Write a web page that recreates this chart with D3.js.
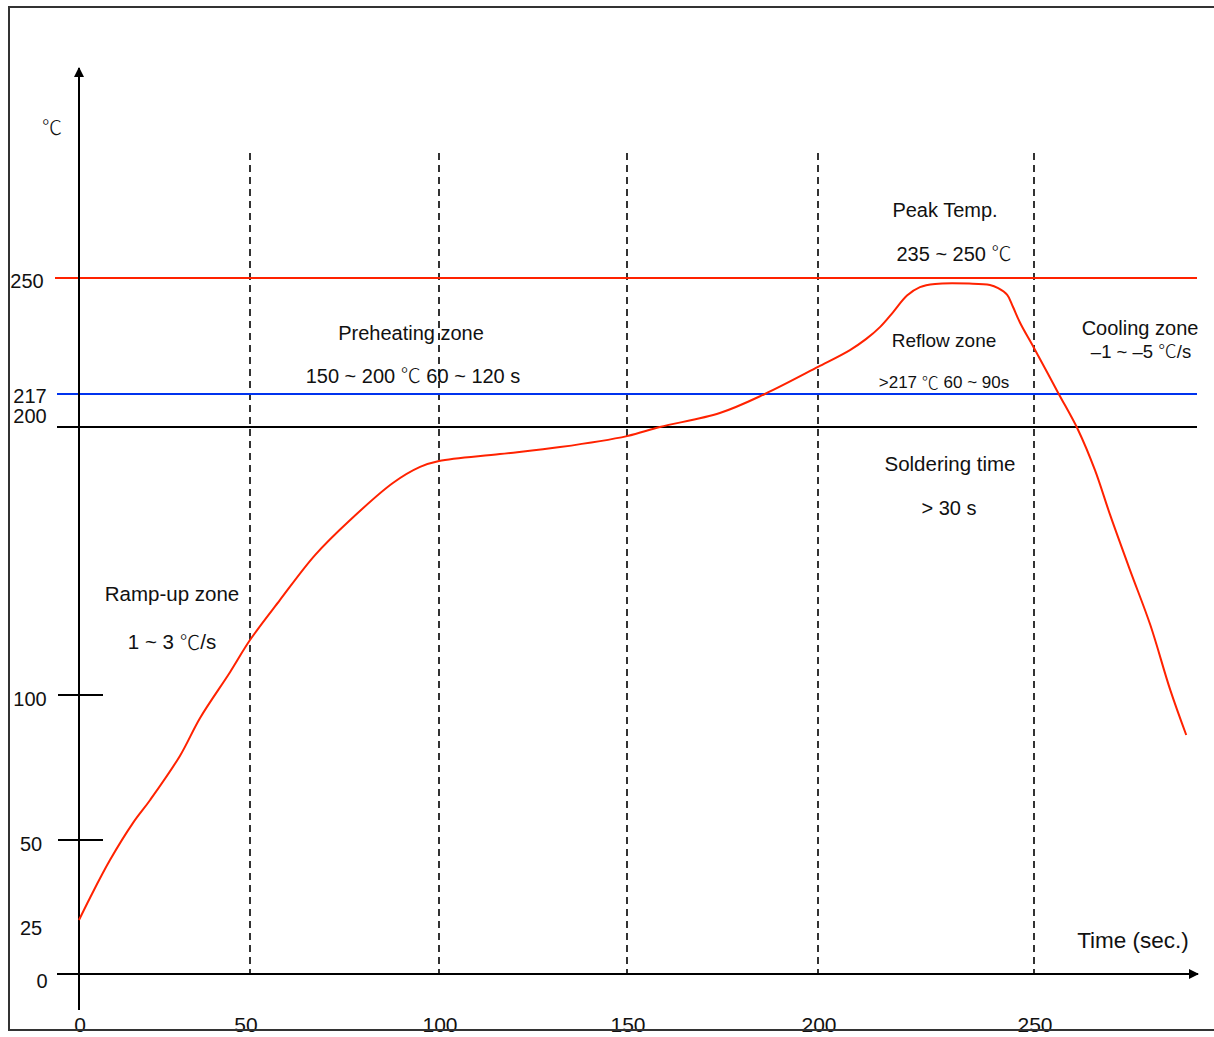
<!DOCTYPE html>
<html>
<head>
<meta charset="utf-8">
<script src="https://cdn.jsdelivr.net/npm/d3@7"></script>
<style>
  html, body { margin: 0; padding: 0; background: #fff; }
  text { font-family: "Liberation Sans", Arial, sans-serif; fill: #111; }
  .cjk { font-family: "Noto Sans CJK SC", sans-serif; font-weight: 300; }
</style>
</head>
<body>
<svg id="chart" width="1214" height="1037"></svg>
<script>
// ---- data ----
const timeTicks = [0, 50, 100, 150, 200, 250];
const zoneBoundaries = [50, 100, 150, 200, 250];
const tempTickLabels = [0, 25, 50, 100, 200, 217, 250];
const tempTickMarks = [50, 100];
const limitLines = [250, 217, 200];
const limitColors = ["#ff2200", "#0033ee", "#000000"];
const profileTime = [0, 3.2, 9.1, 15.8, 20.8, 29.5, 35.4, 44.2, 50, 57.9, 67.2, 76.5, 87.8, 95, 100,
  116.2, 132.2, 150, 158.6, 174.3, 186.1, 200, 207.4, 211.1, 214.4, 217.4, 220.6, 223.6, 227.1,
  235.0, 239.8, 241.7, 243.8, 245.1, 246.8, 250, 255.6, 260.2, 264.1, 267.6, 272.2, 276.9, 281.5, 285.2];
const profileTemp = [25, 31.9, 43.8, 55.9, 63.8, 79.0, 92.1, 108.6, 120.5, 135.4, 152.2, 165.3, 179.1, 185.1, 187.3,
  189.9, 192.5, 196.6, 200, 207.2, 217, 224.7, 229.5, 232.6, 236.1, 240.3, 245.0, 247.4, 248.3,
  248.4, 248.0, 247.1, 245.2, 241.9, 237.2, 230.1, 217.3, 198.9, 183.9, 167.2, 146.6, 126.1, 101.9, 86.2];

// ---- scales (hand-drawn diagram: piecewise linear) ----
const x = d3.scaleLinear()
  .domain([0, 50, 100, 150, 200, 250, 290])
  .range([79, 250, 439, 627, 818, 1034, 1207]);
const y = d3.scaleLinear()
  .domain([0, 25, 50, 100, 200, 217, 250, 300])
  .range([974, 920, 840, 695, 427, 394, 278, 102]);

const svg = d3.select("#chart");

// frame
svg.append("path")
  .attr("d", "M1214,7 L9,7 L9,1030 L1214,1030")
  .attr("fill", "none").attr("stroke", "#333").attr("stroke-width", 2);

// arrow marker
const defs = svg.append("defs");
defs.append("marker").attr("id", "arr").attr("viewBox", "0 0 10 10")
  .attr("refX", 9).attr("refY", 5).attr("markerWidth", 5).attr("markerHeight", 5)
  .attr("markerUnits", "strokeWidth").attr("orient", "auto")
  .append("path").attr("d", "M0,0 L10,5 L0,10 Z").attr("fill", "#000");

// zone dashed lines
svg.selectAll(".zone").data(zoneBoundaries).join("line")
  .attr("x1", d => x(d)).attr("x2", d => x(d))
  .attr("y1", 153).attr("y2", y(0))
  .attr("stroke", "#000").attr("stroke-width", 1.6).attr("stroke-dasharray", "7,5");

// limit lines
svg.selectAll(".lim").data(limitLines).join("line")
  .attr("x1", (d, i) => i === 0 ? 55 : 57).attr("x2", 1197)
  .attr("y1", d => y(d)).attr("y2", d => y(d))
  .attr("stroke", (d, i) => limitColors[i]).attr("stroke-width", 2);

// tick marks on y axis
svg.selectAll(".tm").data(tempTickMarks).join("line")
  .attr("x1", 58).attr("x2", 103)
  .attr("y1", d => y(d)).attr("y2", d => y(d))
  .attr("stroke", "#000").attr("stroke-width", 2);

// axes
svg.append("line").attr("x1", 57).attr("x2", 1198).attr("y1", y(0)).attr("y2", y(0))
  .attr("stroke", "#000").attr("stroke-width", 2).attr("marker-end", "url(#arr)");
svg.append("line").attr("x1", x(0)).attr("x2", x(0)).attr("y1", 1010).attr("y2", 68)
  .attr("stroke", "#000").attr("stroke-width", 2).attr("marker-end", "url(#arr)");

// y tick labels
const yLabelShift = {0: [42, 9], 25: [31, 10], 50: [31, 6], 100: [30, 6], 200: [30, -9], 217: [30, 4], 250: [27, 5]};
svg.selectAll(".yl").data(tempTickLabels).join("text")
  .attr("x", d => yLabelShift[d][0]).attr("y", d => y(d) + yLabelShift[d][1])
  .attr("text-anchor", "middle").attr("dominant-baseline", "middle")
  .attr("font-size", 20).text(d => d);

// x tick labels
svg.selectAll(".xl").data(timeTicks).join("text")
  .attr("x", d => x(d) + (d === 50 ? -4 : 1)).attr("y", 1026)
  .attr("text-anchor", "middle").attr("dominant-baseline", "middle")
  .attr("font-size", 21).text(d => d);
// redraw frame bottom over labels
svg.append("line").attr("x1", 9).attr("x2", 1214).attr("y1", 1030).attr("y2", 1030)
  .attr("stroke", "#333").attr("stroke-width", 2);

// profile curve
const pts = profileTime.map((t, i) => [t, profileTemp[i]]);
svg.append("path")
  .attr("d", d3.line().x(d => x(d[0])).y(d => y(d[1])).curve(d3.curveCatmullRom.alpha(0.5))(pts))
  .attr("fill", "none").attr("stroke", "#ff2200").attr("stroke-width", 2);

// annotations (℃ drawn with a wide CJK glyph, as in the original)
const ann = [
  ["℃", 52, 130, 20],
  ["Peak Temp.", 945, 212, 20],
  ["235 ~ 250 ℃", 954, 256, 20],
  ["Preheating zone", 411, 335, 20],
  ["150 ~ 200 ℃ 60 ~ 120 s", 413, 378, 20],
  ["Reflow zone", 944, 342, 19],
  [">217 ℃ 60 ~ 90s", 944, 384, 17],
  ["Cooling zone", 1140, 330, 20],
  ["–1 ~ –5 ℃/s", 1141, 353, 18.5],
  ["Soldering time", 950, 466, 20.5],
  ["> 30 s", 949, 510, 20],
  ["Ramp-up zone", 172, 596, 20.5],
  ["1 ~ 3 ℃/s", 172, 644, 20.5],
  ["Time (sec.)", 1133, 942, 22.5]
];
const at = svg.selectAll(".ann").data(ann).join("text")
  .attr("x", d => d[1]).attr("y", d => d[2])
  .attr("font-size", d => d[3]).attr("text-anchor", "middle")
  .attr("dominant-baseline", "middle");
at.each(function(d) {
  const el = d3.select(this);
  const parts = d[0].split(/(℃)/);
  parts.forEach(p => {
    if (!p) return;
    const ts = el.append("tspan").text(p);
    if (p === "℃") ts.attr("class", "cjk");
  });
});
</script>
</body>
</html>
